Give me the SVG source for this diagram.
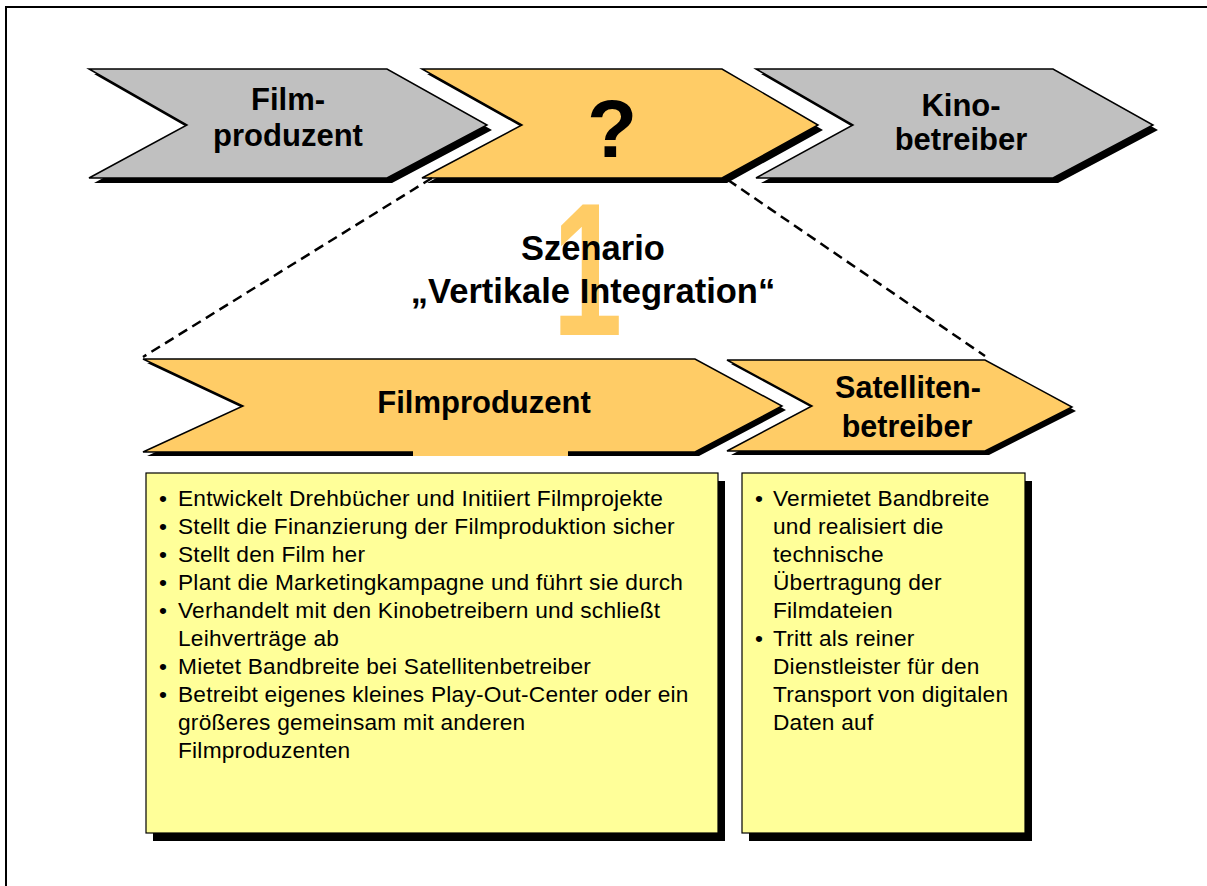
<svg xmlns="http://www.w3.org/2000/svg" width="1207" height="886" viewBox="0 0 1207 886">
  <style>
    .gray { fill: #C0C0C0; stroke: #000; stroke-width: 1.5; stroke-linejoin: miter; }
    .orange { fill: #FFCC66; stroke: #000; stroke-width: 1.5; stroke-linejoin: miter; }
    .shadow { fill: #000; }
    .note { fill: #FFFF99; stroke: #000; stroke-width: 1.2; }
    .head { font-family: "Liberation Sans", Arial, sans-serif; font-weight: bold; fill: #000; text-anchor: middle; }
    .body { font-family: "Liberation Sans", Arial, sans-serif; font-size: 22.7px; letter-spacing: 0.23px; fill: #000; }
    .dash { fill: none; stroke: #000; stroke-width: 2.5; stroke-dasharray: 10 6; }
  </style>

  <rect width="1207" height="886" fill="#fff"/>
  <!-- page frame (left and top edges) -->
  <path d="M6,886 V7 H1207" fill="none" stroke="#000" stroke-width="2"/>

  <!-- value chain, top row -->
  <g id="chain-filmproduzent">
    <polygon class="shadow" points="94,74 392,74 492,130 392,183 94,183 192,130"/>
    <polygon class="gray" points="89,69 387,69 487,125 387,178 89,178 187,125"/>
    <text class="head" font-size="31" x="288" y="110">Film-</text>
    <text class="head" font-size="31" x="288" y="146">produzent</text>
  </g>
  <g id="chain-unknown">
    <polygon class="shadow" points="427,74 727,74 823,130 727,183 427,183 527,130"/>
    <polygon class="orange" points="422,69 722,69 818,125 722,178 422,178 522,125"/>
    <text class="head" font-size="82" x="612" y="157">?</text>
  </g>
  <g id="chain-kinobetreiber">
    <polygon class="shadow" points="761,74 1058,74 1158,130 1058,183 761,183 858,130"/>
    <polygon class="gray" points="756,69 1053,69 1153,125 1053,178 756,178 853,125"/>
    <text class="head" font-size="31" x="961" y="116">Kino-</text>
    <text class="head" font-size="31" x="961" y="150">betreiber</text>
  </g>

  <!-- zoom-out lines from the middle stage -->
  <g id="connectors">
    <line class="dash" x1="432" y1="178" x2="143" y2="357"/>
    <line class="dash" x1="728" y1="180" x2="985" y2="356"/>
  </g>

  <!-- scenario title with its large number behind -->
  <g id="scenario">
    <text transform="scale(0.66,1)" x="837" y="335" font-family="Liberation Sans, Arial, sans-serif" font-weight="bold" font-size="190" fill="#FFCC66">1</text>
    <text class="head" font-size="34.5" x="593" y="260">Szenario</text>
    <text class="head" font-size="34.5" x="593" y="303">„Vertikale Integration“</text>
  </g>

  <!-- scenario row -->
  <g id="stage-filmproduzent">
    <polygon class="shadow" points="147,363 699,363 786,410 699,456 147,456 247,410"/>
    <polygon class="orange" points="143,359 695,359 782,406 695,452 143,452 243,406"/>
    <rect x="413" y="449" width="155" height="7" fill="#FFCC66"/>
    <text class="head" font-size="31" x="484" y="413">Filmproduzent</text>
  </g>
  <g id="stage-satellitenbetreiber">
    <polygon class="shadow" points="731,364 989,364 1076,411 989,455 731,455 816,410"/>
    <polygon class="orange" points="727,360 985,360 1072,407 985,451 727,451 812,406"/>
    <text class="head" font-size="30.5" x="908" y="398">Satelliten-</text>
    <text class="head" font-size="30.5" x="907" y="437">betreiber</text>
  </g>

  <!-- task descriptions -->
  <g id="tasks-filmproduzent">
    <rect class="shadow" x="153" y="481" width="572" height="360"/>
    <rect class="note" x="146" y="473" width="572" height="360"/>
    <text class="body">
      <tspan x="159" y="506">•</tspan><tspan x="178" y="506">Entwickelt Drehbücher und Initiiert Filmprojekte</tspan>
      <tspan x="159" y="534">•</tspan><tspan x="178" y="534">Stellt die Finanzierung der Filmproduktion sicher</tspan>
      <tspan x="159" y="562">•</tspan><tspan x="178" y="562">Stellt den Film her</tspan>
      <tspan x="159" y="590">•</tspan><tspan x="178" y="590">Plant die Marketingkampagne und führt sie durch</tspan>
      <tspan x="159" y="618">•</tspan><tspan x="178" y="618">Verhandelt mit den Kinobetreibern und schließt</tspan>
      <tspan x="178" y="646">Leihverträge ab</tspan>
      <tspan x="159" y="674">•</tspan><tspan x="178" y="674">Mietet Bandbreite bei Satellitenbetreiber</tspan>
      <tspan x="159" y="702">•</tspan><tspan x="178" y="702">Betreibt eigenes kleines Play-Out-Center oder ein</tspan>
      <tspan x="178" y="730">größeres gemeinsam mit anderen</tspan>
      <tspan x="178" y="758">Filmproduzenten</tspan>
    </text>
  </g>
  <g id="tasks-satellitenbetreiber">
    <rect class="shadow" x="749" y="481" width="283" height="360"/>
    <rect class="note" x="742" y="473" width="283" height="360"/>
    <text class="body">
      <tspan x="755" y="506">•</tspan><tspan x="773" y="506">Vermietet Bandbreite</tspan>
      <tspan x="773" y="534">und realisiert die</tspan>
      <tspan x="773" y="562">technische</tspan>
      <tspan x="773" y="590">Übertragung der</tspan>
      <tspan x="773" y="618">Filmdateien</tspan>
      <tspan x="755" y="646">•</tspan><tspan x="773" y="646">Tritt als reiner</tspan>
      <tspan x="773" y="674">Dienstleister für den</tspan>
      <tspan x="773" y="702">Transport von digitalen</tspan>
      <tspan x="773" y="730">Daten auf</tspan>
    </text>
  </g>
</svg>
